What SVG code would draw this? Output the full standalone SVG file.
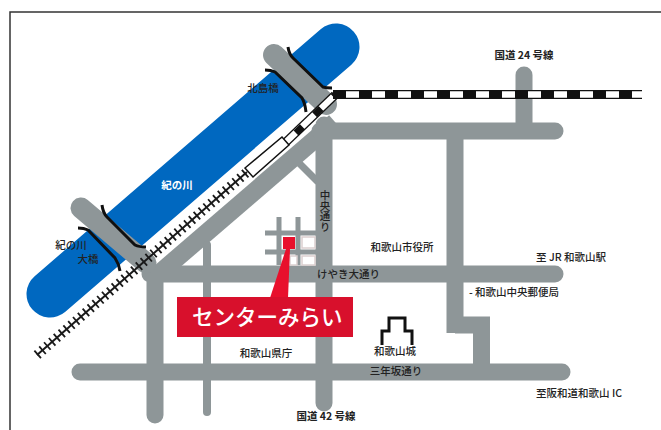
<svg xmlns="http://www.w3.org/2000/svg" width="661" height="430" viewBox="0 0 661 430">
<style>
.road{stroke:#8e9698;fill:none;stroke-width:17;stroke-linecap:round}
.butt{stroke-linecap:butt}
.thin{stroke-width:8}
.lane{stroke-width:5;stroke-linecap:butt}
.bridge{stroke:#101010;fill:none;stroke-width:3}
text{font-family:"Noto Sans CJK JP","Liberation Sans",sans-serif;fill:#222;font-size:10.5px;font-weight:500}
.lbl{text-anchor:middle}
</style>
<rect width="661" height="430" fill="#fff"/>
<path d="M10 430V12H661" fill="none" stroke="#333" stroke-width="1.5"/>
<g id="river"><path d="M50 294L336 47" stroke="#0068c0" stroke-width="47" stroke-linecap="round" fill="none"/></g>
<g id="connectors">
<path class="road butt" style="stroke-width:18" d="M155 277L335 122"/>
<path class="road" d="M324 125V403M320 131H555M524 75V131M150 274H555M80 372H562M155 274V415"/>
<path class="road butt" d="M455 131V333"/>
<path class="road butt" d="M455 325H490M481.500 317V372"/>
<path class="road thin" d="M207 245V412"/>
<path d="M296 160L318 182" stroke="#8e9698" stroke-width="7" fill="none"/>
<path class="road lane" d="M265 233H316M265 252H316M279 217V265M298 217V265"/>
<path class="road" style="stroke-width:22" d="M274 55L326 104"/>
<path class="road" style="stroke-width:21" d="M81 208L146 263"/>
<g class="bridge">
<path d="M288 47Q289 54 293 58L323 87Q326 88 332 88"/>
<path d="M265 70Q271 70 275 72L302 98Q305 103 306 112"/>
<path d="M102 205Q103 213 107 217L135 245Q139 247 146 247"/>
<path d="M78 228Q84 228 88 230L115 258Q119 264 120 271"/>
</g>
<g id="rail">
<path d="M37 355L247 172" stroke="#1a1a1a" stroke-width="2" fill="none"/>
<path d="M37 355L247 172" stroke="#1a1a1a" stroke-width="10" stroke-dasharray="1.8 4.6" fill="none"/>
<path d="M286 142L335 95" stroke="#111" stroke-width="9" fill="none"/>
<path d="M286 142L335 95" stroke="#fff" stroke-width="6.5" fill="none"/>
<path d="M296 133L335 95" stroke="#111" stroke-width="7" stroke-dasharray="9 17" fill="none"/>
<path d="M333 94.500H642" stroke="#111" stroke-width="9" fill="none"/>
<path d="M333 94.500H642" stroke="#fff" stroke-width="6.500" fill="none"/>
<path d="M333 94.500H634" stroke="#111" stroke-width="7" stroke-dasharray="13 13" fill="none"/>
<path d="M245 168L282 137L289 145L253 177Z" fill="#fff" stroke="#111" stroke-width="1.500"/>
</g>
</g>
<g id="marker">
<path d="M302 237h13v11h-13zM302 256h13v9h-13zM290 256h7v9h-7z" fill="#fff" stroke="#dccfcf" stroke-width="1.500"/>
<rect x="283" y="237" width="12" height="12" fill="#e8102c"/>
<path d="M286 249L270 298H288L290 249Z" fill="#e8102c"/>
<rect x="177" y="297" width="176" height="40" fill="#d8102c"/>
<text x="192" y="325" style="fill:#fff;font-size:21.500px;font-family:'Noto Sans CJK JP',sans-serif;font-weight:500">センターみらい</text>
</g>
<g id="castle"><path d="M382 345V331H389V318H405V331H412V345" fill="none" stroke="#111" stroke-width="3"/></g>
<g id="labels">
<text class="lbl" x="524" y="59" style="font-weight:700">国道 24 号線</text>
<text class="lbl" x="263" y="92">北島橋</text>
<text class="lbl" x="177" y="189" style="fill:#fff;font-weight:700">紀の川</text>
<text class="lbl" x="71" y="249">紀の川</text>
<text class="lbl" x="88" y="263">大橋</text>
<text x="325" y="190" style="writing-mode:vertical-rl">中央通り</text>
<text class="lbl" x="402" y="251">和歌山市役所</text>
<text class="lbl" x="571" y="261">至 JR 和歌山駅</text>
<text x="317" y="278">けやき大通り</text>
<text x="469" y="296">- 和歌山中央郵便局</text>
<text class="lbl" x="266" y="357">和歌山県庁</text>
<text class="lbl" x="395" y="355">和歌山城</text>
<text class="lbl" x="396" y="375">三年坂通り</text>
<text class="lbl" x="579" y="397">至阪和道和歌山 IC</text>
<text class="lbl" x="326" y="420" style="font-weight:700">国道 42 号線</text>
</g>
</svg>
